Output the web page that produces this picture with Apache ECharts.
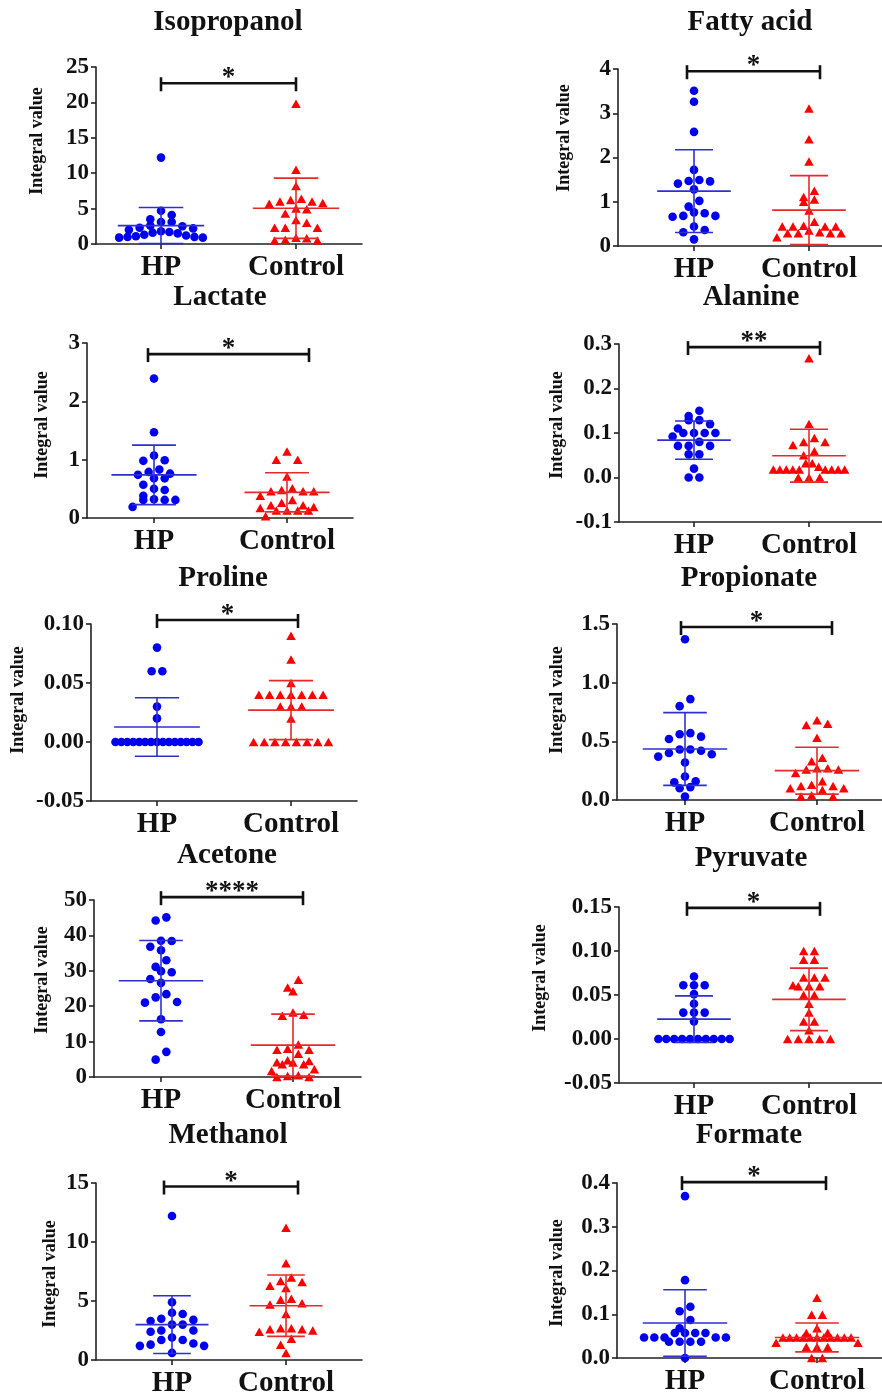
<!DOCTYPE html>
<html><head><meta charset="utf-8">
<script src="https://cdn.jsdelivr.net/npm/echarts@6/dist/echarts.min.js"></script>
<style>html,body{margin:0;padding:0;background:#fff}#c{width:882px;height:1399px}</style>
</head><body><div id="c"></div>
<script>
// ---------------- DATA ----------------
const groups = ['HP', 'Control'];
const titles = ['Isopropanol','Fatty acid','Lactate','Alanine','Proline','Propionate','Acetone','Pyruvate','Methanol','Formate'];
const yAxisName = 'Integral value';
const significance = ['*','*','*','**','*','*','****','*','*','*'];
const bracketLevel = [22.7, 3.95, 2.81, 0.293, 0.1034, 1.474, 50.8, 0.149, 14.7, 0.402];
const yMin = [0, 0, 0, -0.1, -0.05, 0, 0, -0.05, 0, 0];
const yMax = [25, 4, 3, 0.3, 0.10, 1.5, 50, 0.15, 15, 0.4];
const yStep = [5, 1, 1, 0.1, 0.05, 0.5, 10, 0.05, 5, 0.1];
const yDecimals = [0, 0, 0, 1, 2, 1, 0, 2, 0, 1];

const isopropanolHP = [12.2, 4.7, 4.1, 3.5, 3.1, 3.1, 2.6, 2.5, 2.3, 2.2, 2.0, 1.8, 1.7, 1.6, 1.5, 1.3, 1.1, 1.0, 0.9, 0.9, 1.0, 1.2];
const isopropanolControl = [19.8, 10.5, 8.2, 6.4, 6.2, 6.0, 6.0, 5.8, 5.7, 5.0, 4.9, 4.3, 3.4, 3.0, 2.3, 2.3, 2.3, 0.9, 0.8, 0.6, 0.5, 0.5];
const fattyAcidHP = [3.51, 3.26, 2.58, 1.72, 1.49, 1.47, 1.46, 1.41, 1.28, 1.02, 0.89, 0.76, 0.74, 0.68, 0.68, 0.66, 0.44, 0.36, 0.31, 0.15];
const fattyAcidControl = [3.11, 2.41, 1.91, 1.25, 1.11, 1.05, 1.0, 0.8, 0.55, 0.46, 0.44, 0.44, 0.44, 0.44, 0.35, 0.31, 0.29, 0.29, 0.29, 0.29, 0.2];
const lactateHP = [2.39, 1.47, 1.07, 0.99, 0.98, 0.83, 0.79, 0.76, 0.74, 0.68, 0.68, 0.57, 0.50, 0.48, 0.38, 0.32, 0.31, 0.31, 0.31, 0.19];
const lactateControl = [1.14, 1.0, 1.0, 0.71, 0.51, 0.48, 0.46, 0.46, 0.46, 0.38, 0.31, 0.26, 0.22, 0.22, 0.19, 0.17, 0.13, 0.13, 0.13, 0.13, 0.03];
const alanineHP = [0.150, 0.138, 0.129, 0.129, 0.120, 0.110, 0.100, 0.100, 0.100, 0.100, 0.092, 0.080, 0.071, 0.071, 0.071, 0.052, 0.052, 0.020, 0.0, 0.0];
const alanineControl = [0.268, 0.12, 0.089, 0.08, 0.08, 0.073, 0.059, 0.05, 0.032, 0.032, 0.024, 0.018, 0.018, 0.018, 0.018, 0.018, 0.018, 0.018, 0.018, 0.018, 0.0, 0.0, 0.0];
const prolineHP = [0.08, 0.06, 0.06, 0.03, 0.02, 0, 0, 0, 0, 0, 0, 0, 0, 0, 0, 0, 0, 0, 0, 0];
const prolineControl = [0.09, 0.07, 0.05, 0.04, 0.04, 0.04, 0.04, 0.04, 0.04, 0.04, 0.03, 0.03, 0.03, 0.02, 0, 0, 0, 0, 0, 0, 0, 0];
const propionateHP = [1.37, 0.86, 0.80, 0.57, 0.56, 0.54, 0.52, 0.43, 0.43, 0.42, 0.40, 0.39, 0.37, 0.32, 0.20, 0.16, 0.15, 0.11, 0.10, 0.03];
const propionateControl = [0.68, 0.65, 0.64, 0.53, 0.36, 0.33, 0.27, 0.27, 0.26, 0.26, 0.23, 0.16, 0.13, 0.12, 0.12, 0.10, 0.10, 0.085, 0.04, 0.03, 0.03];
const acetoneHP = [45.1, 44.2, 38.5, 38.4, 36.8, 35.8, 33.0, 31.1, 29.9, 29.6, 27.7, 26.6, 23.4, 22.5, 21.2, 21.0, 16.3, 12.7, 7.1, 4.9];
const acetoneControl = [27.5, 25.3, 24.2, 18.2, 17.6, 17.3, 9.2, 8.0, 7.7, 7.7, 6.6, 4.7, 4.5, 4.2, 4.1, 3.6, 3.6, 2.2, 1.7, 0.5, 0.3, 0.0, 0.0];
const pyruvateHP = [0.071, 0.061, 0.061, 0.061, 0.051, 0.040, 0.030, 0.030, 0.030, 0.020, 0, 0, 0, 0, 0, 0, 0, 0, 0, 0];
const pyruvateControl = [0.10, 0.10, 0.09, 0.09, 0.07, 0.07, 0.07, 0.061, 0.06, 0.06, 0.06, 0.05, 0.05, 0.04, 0.03, 0.02, 0.02, 0.01, 0, 0, 0, 0, 0];
const methanolHP = [12.2, 4.9, 4.0, 3.9, 3.5, 3.4, 3.3, 3.0, 3.0, 2.5, 2.5, 2.4, 1.9, 1.7, 1.7, 1.4, 1.3, 1.2, 1.2, 0.6];
const methanolControl = [11.2, 8.2, 7.0, 6.7, 6.6, 6.3, 6.1, 5.2, 5.1, 4.8, 4.7, 3.9, 2.7, 2.7, 2.6, 2.6, 2.5, 2.4, 1.8, 1.3, 0.6];
const formateHP = [0.37, 0.178, 0.117, 0.107, 0.087, 0.068, 0.057, 0.057, 0.057, 0.057, 0.047, 0.047, 0.047, 0.047, 0.047, 0.037, 0.037, 0.037, 0.037, 0.0];
const formateControl = [0.138, 0.099, 0.099, 0.068, 0.058, 0.057, 0.047, 0.047, 0.047, 0.047, 0.047, 0.047, 0.047, 0.047, 0.047, 0.047, 0.047, 0.035, 0.035, 0.025, 0.025, 0.025, 0.0, 0.0];

const hpValues = [isopropanolHP, fattyAcidHP, lactateHP, alanineHP, prolineHP, propionateHP, acetoneHP, pyruvateHP, methanolHP, formateHP];
const controlValues = [isopropanolControl, fattyAcidControl, lactateControl, alanineControl, prolineControl, propionateControl, acetoneControl, pyruvateControl, methanolControl, formateControl];

// mean and SD as drawn in the figure
const hpMean = [2.6, 1.24, 0.74, 0.084, 0.0127, 0.435, 27.2, 0.0226, 3.0, 0.080];
const hpSD = [2.55, 0.935, 0.51, 0.043, 0.0248, 0.31, 11.35, 0.0264, 2.45, 0.076];
const controlMean = [5.05, 0.81, 0.44, 0.049, 0.027, 0.25, 9.0, 0.045, 4.6, 0.047];
const controlSD = [4.25, 0.78, 0.335, 0.0595, 0.025, 0.20, 8.75, 0.0355, 2.6, 0.033];

// ---------------- LAYOUT (pixels) ----------------
const layout = [
 {left:96,right:362,top:67,bottom:244,hpX:161,ctrlX:296,bx0:161,bx1:296,tx:228,ty:23,nx:37,ny:141},
 {left:618,right:882,top:69,bottom:246,hpX:694,ctrlX:809,bx0:687,bx1:820,tx:750,ty:23,nx:564,ny:138},
 {left:87,right:353,top:343,bottom:518,hpX:154,ctrlX:287,bx0:148,bx1:309,tx:220,ty:298,nx:42,ny:425},
 {left:619,right:882,top:344,bottom:522,hpX:694,ctrlX:809,bx0:688,bx1:820,tx:751,ty:298,nx:557,ny:425},
 {left:91,right:357,top:624,bottom:801,hpX:157,ctrlX:291,bx0:157,bx1:298,tx:223,ty:579,nx:18,ny:700},
 {left:617,right:882,top:624,bottom:800,hpX:685,ctrlX:817,bx0:681,bx1:832,tx:749,ty:579,nx:557,ny:700},
 {left:94,right:361,top:900,bottom:1077,hpX:161,ctrlX:293,bx0:161,bx1:303,tx:227,ty:856,nx:42,ny:980},
 {left:619,right:882,top:907,bottom:1083,hpX:694,ctrlX:809,bx0:687,bx1:820,tx:751,ty:859,nx:540,ny:978},
 {left:96,right:362,top:1183,bottom:1360,hpX:172,ctrlX:286,bx0:164,bx1:298,tx:228,ty:1136,nx:50,ny:1274},
 {left:617,right:882,top:1183,bottom:1358,hpX:685,ctrlX:817,bx0:682,bx1:826,tx:749,ty:1136,nx:557,ny:1273}
];

const FONT = '"Liberation Serif", "Times New Roman", serif';
const BLUE = '#0000f0', RED = '#ff0000';
const BLUE_LINE = '#2f2fd0', RED_LINE = '#e62a2a';
const AXIS = '#222';

// GraphPad-like scatter layout: values in rows, spread horizontally
function swarm(values, pxPerUnitY, pxPerUnitX, maxHalfPx, step, rowH) {
  const idx = values.map((v, i) => i).sort((a, b) => values[b] - values[a]);
  const xs = new Array(values.length).fill(0);
  let i = 0;
  while (i < idx.length) {
    const start = values[idx[i]];
    let j = i;
    while (j < idx.length && (start - values[idx[j]]) * pxPerUnitY < rowH) j++;
    const row = idx.slice(i, j);
    const n = row.length;
    const s = n > 1 ? Math.min(step, 2 * maxHalfPx / (n - 1)) : 0;
    const slots = [];
    for (let k = 0; k < n; k++) slots.push((k - (n - 1) / 2) * s);
    slots.sort((a, b) => Math.abs(a) - Math.abs(b) || b - a);
    row.forEach((id, k) => { xs[id] = slots[k] / pxPerUnitX; });
    i = j;
  }
  return xs;
}

const grids = [], xAxes = [], yAxes = [], series = [], graphics = [];

titles.forEach((title, p) => {
  const L = layout[p];
  const spacing = L.ctrlX - L.hpX;
  const xmin = (L.left - L.hpX) / spacing;
  const xmax = (L.right - L.hpX) / spacing;
  const pxY = (L.bottom - L.top) / (yMax[p] - yMin[p]);

  grids.push({left: L.left, top: L.top, width: L.right - L.left, height: L.bottom - L.top, containLabel: false, outerBoundsMode: 'none'});
  xAxes.push({
    type: 'value', gridIndex: p, min: xmin, max: xmax,
    axisLine: {show: true, onZero: false, lineStyle: {color: AXIS, width: 1.6}},
    axisTick: {show: true, customValues: [0, 1], length: 5, lineStyle: {color: AXIS, width: 1.6}},
    axisLabel: {show: true, customValues: [0, 1], margin: 9, formatter: v => groups[Math.round(v)] || '',
      fontFamily: FONT, fontWeight: 'bold', fontSize: 29, color: '#111'},
    splitLine: {show: false}
  });
  yAxes.push({
    type: 'value', gridIndex: p, min: yMin[p], max: yMax[p], interval: yStep[p],
    axisLine: {show: true, onZero: false, lineStyle: {color: AXIS, width: 1.6}},
    axisTick: {show: true, length: 5, lineStyle: {color: AXIS, width: 1.6}},
    axisLabel: {margin: 7, formatter: v => Number(v).toFixed(yDecimals[p]),
      fontFamily: FONT, fontWeight: 'bold', fontSize: 23, color: '#111'},
    splitLine: {show: false}
  });

  const hp = hpValues[p], ct = controlValues[p];
  const hx = swarm(hp, pxY, spacing, 0.31 * spacing, 10.7, 8.5);
  const cx = swarm(ct, pxY, spacing, 0.31 * spacing, 10.7, 8.5);

  series.push({type: 'scatter', xAxisIndex: p, yAxisIndex: p, symbol: 'circle', symbolSize: 8.6,
    itemStyle: {color: BLUE, opacity: 1}, data: hp.map((v, i) => [hx[i], v]), z: 2, silent: true});
  series.push({type: 'scatter', xAxisIndex: p, yAxisIndex: p, symbol: 'triangle', symbolSize: [9.5, 8.5],
    itemStyle: {color: RED, opacity: 1}, data: ct.map((v, i) => [1 + cx[i], v]), z: 2, silent: true});

  const meanSD = (color) => (params, api) => {
    const x = api.value(0), m = api.value(1), sd = api.value(2);
    const c = api.coord([x, m]);
    const hm = api.coord([x + 0.32, m])[0] - c[0];
    const hs = api.coord([x + 0.165, m])[0] - c[0];
    const t = api.coord([x, m + sd])[1], b = api.coord([x, m - sd])[1];
    const st = {stroke: color, lineWidth: 1.6};
    return {type: 'group', children: [
      {type: 'line', shape: {x1: c[0] - hm, y1: c[1], x2: c[0] + hm, y2: c[1]}, style: st},
      {type: 'line', shape: {x1: c[0] - hs, y1: t, x2: c[0] + hs, y2: t}, style: st},
      {type: 'line', shape: {x1: c[0] - hs, y1: b, x2: c[0] + hs, y2: b}, style: st},
      {type: 'line', shape: {x1: c[0], y1: t, x2: c[0], y2: b}, style: st}
    ]};
  };
  series.push({type: 'custom', xAxisIndex: p, yAxisIndex: p, z: 3, silent: true, clip: false,
    renderItem: meanSD(BLUE_LINE), data: [[0, hpMean[p], hpSD[p]]]});
  series.push({type: 'custom', xAxisIndex: p, yAxisIndex: p, z: 3, silent: true, clip: false,
    renderItem: meanSD(RED_LINE), data: [[1, controlMean[p], controlSD[p]]]});

  const bx0 = (L.bx0 - L.hpX) / spacing, bx1 = (L.bx1 - L.hpX) / spacing;
  series.push({type: 'custom', xAxisIndex: p, yAxisIndex: p, z: 4, silent: true, clip: false,
    data: [[bx0, bx1, bracketLevel[p]]],
    renderItem: (params, api) => {
      const a = api.coord([api.value(0), api.value(2)]);
      const b = api.coord([api.value(1), api.value(2)]);
      const st = {stroke: '#111', lineWidth: 2.6};
      return {type: 'group', children: [
        {type: 'line', shape: {x1: a[0], y1: a[1], x2: b[0], y2: b[1]}, style: st},
        {type: 'line', shape: {x1: a[0], y1: a[1] - 6, x2: a[0], y2: a[1] + 8}, style: st},
        {type: 'line', shape: {x1: b[0], y1: b[1] - 6, x2: b[0], y2: b[1] + 8}, style: st},
        {type: 'text', x: (a[0] + b[0]) / 2, y: a[1] - 5, style: {text: significance[p],
          font: 'bold 27px ' + FONT, textAlign: 'center', textVerticalAlign: 'middle', fill: '#111'}}
      ]};
    }});

  graphics.push({type: 'text', x: L.tx, y: L.ty, style: {text: title, font: 'bold 29px ' + FONT,
    textAlign: 'center', textVerticalAlign: 'middle', fill: '#111'}});
  graphics.push({type: 'text', x: L.nx, y: L.ny, rotation: Math.PI / 2, style: {text: yAxisName,
    font: 'bold 18px ' + FONT, textAlign: 'center', textVerticalAlign: 'middle', fill: '#111'}});
});

const chart = echarts.init(document.getElementById('c'), null, {renderer: 'canvas'});
chart.setOption({
  backgroundColor: '#fff',
  animation: false,
  grid: grids, xAxis: xAxes, yAxis: yAxes, series: series, graphic: graphics
});
</script></body></html>
